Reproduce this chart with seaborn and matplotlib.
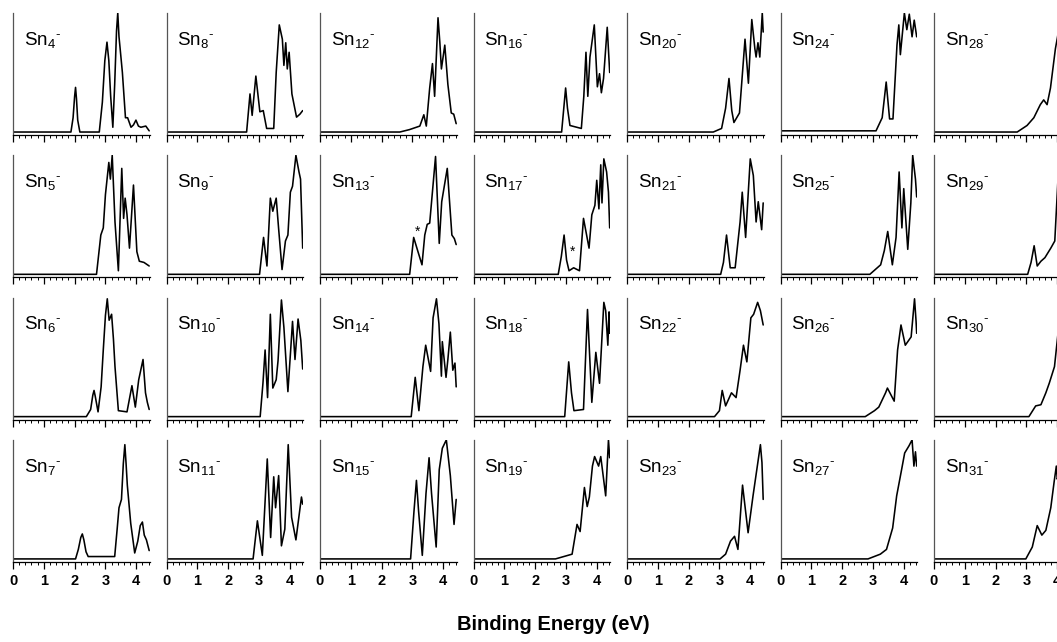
import matplotlib
matplotlib.use("Agg")
import matplotlib.pyplot as plt
import seaborn as sns
from matplotlib.ticker import MultipleLocator

sns.set_style("ticks")
plt.rcParams['font.family'] = ['Liberation Sans', 'DejaVu Sans']
plt.rcParams['mathtext.fontset'] = 'custom'
plt.rcParams['mathtext.rm'] = 'Liberation Sans'
plt.rcParams['mathtext.it'] = 'Liberation Sans:italic'
plt.rcParams['mathtext.bf'] = 'Liberation Sans:bold'
plt.rcParams['text.color'] = 'black'
plt.rcParams['xtick.color'] = 'black'
plt.rcParams['axes.labelcolor'] = 'black'

# ---- data: binding energy (eV) / normalized intensity for each Sn_n^- spectrum ----
sn4_ev = [0, 1.88, 1.95, 2.0, 2.03, 2.06, 2.10, 2.17, 2.80, 2.90, 2.98, 3.05, 3.11, 3.17, 3.24, 3.30, 3.36, 3.40, 3.44, 3.47, 3.55, 3.65, 3.72, 3.83, 3.91, 3.99, 4.07, 4.15, 4.31, 4.42]
sn4_in = [0, 0, 0.12, 0.3, 0.375, 0.28, 0.1, 0, 0, 0.25, 0.6, 0.755, 0.6, 0.3, 0.04, 0.4, 0.85, 1.0, 0.8, 0.72, 0.5, 0.12, 0.12, 0.04, 0.06, 0.10, 0.05, 0.04, 0.05, 0.01]
sn5_ev = [0, 2.71, 2.85, 2.93, 3.0, 3.11, 3.16, 3.22, 3.31, 3.42, 3.53, 3.59, 3.64, 3.70, 3.78, 3.91, 4.02, 4.10, 4.25, 4.42]
sn5_in = [0, 0, 0.33, 0.39, 0.67, 0.94, 0.8, 1.0, 0.44, 0.03, 0.89, 0.47, 0.64, 0.5, 0.22, 0.75, 0.19, 0.11, 0.1, 0.07]
sn6_ev = [0, 2.38, 2.52, 2.59, 2.63, 2.67, 2.76, 2.86, 2.93, 3.0, 3.06, 3.12, 3.2, 3.26, 3.31, 3.42, 3.7, 3.86, 3.97, 4.08, 4.22, 4.3, 4.36, 4.42]
sn6_in = [0, 0, 0.06, 0.18, 0.22, 0.17, 0.04, 0.25, 0.56, 0.85, 0.99, 0.81, 0.86, 0.65, 0.42, 0.05, 0.04, 0.26, 0.08, 0.31, 0.48, 0.2, 0.12, 0.06]
sn7_ev = [0, 2.03, 2.12, 2.2, 2.25, 2.3, 2.37, 2.44, 3.3, 3.38, 3.44, 3.52, 3.58, 3.63, 3.67, 3.71, 3.82, 3.95, 4.05, 4.13, 4.2, 4.26, 4.33, 4.42]
sn7_in = [0, 0, 0.08, 0.18, 0.21, 0.16, 0.06, 0.02, 0.02, 0.25, 0.43, 0.5, 0.8, 0.96, 0.8, 0.62, 0.3, 0.05, 0.15, 0.28, 0.31, 0.2, 0.16, 0.07]
sn8_ev = [0, 2.60, 2.71, 2.78, 2.90, 3.03, 3.14, 3.25, 3.48, 3.56, 3.66, 3.76, 3.81, 3.87, 3.92, 3.98, 4.07, 4.22, 4.33, 4.42]
sn8_in = [0, 0, 0.32, 0.14, 0.47, 0.17, 0.18, 0.03, 0.03, 0.5, 0.9, 0.78, 0.56, 0.75, 0.53, 0.67, 0.32, 0.125, 0.15, 0.18]
sn9_ev = [0, 3.02, 3.15, 3.26, 3.37, 3.45, 3.56, 3.64, 3.75, 3.86, 3.94, 4.02, 4.09, 4.2, 4.3, 4.35, 4.42]
sn9_in = [0, 0, 0.31, 0.07, 0.64, 0.53, 0.64, 0.38, 0.04, 0.28, 0.33, 0.69, 0.74, 1.0, 0.86, 0.8, 0.22]
sn10_ev = [0, 3.04, 3.13, 3.2, 3.28, 3.37, 3.45, 3.56, 3.62, 3.73, 3.81, 3.94, 4.03, 4.09, 4.17, 4.27, 4.36, 4.42]
sn10_in = [0, 0, 0.28, 0.56, 0.16, 0.86, 0.24, 0.31, 0.47, 0.98, 0.75, 0.21, 0.56, 0.8, 0.48, 0.82, 0.64, 0.4]
sn11_ev = [0, 2.81, 2.95, 3.11, 3.27, 3.38, 3.48, 3.54, 3.64, 3.73, 3.84, 3.95, 4.06, 4.2, 4.38, 4.42]
sn11_in = [0, 0, 0.32, 0.03, 0.84, 0.18, 0.69, 0.43, 0.7, 0.11, 0.25, 0.96, 0.35, 0.16, 0.52, 0.46]
sn12_ev = [0, 2.59, 2.9, 3.24, 3.37, 3.45, 3.56, 3.65, 3.72, 3.83, 3.89, 3.94, 4.05, 4.15, 4.26, 4.34, 4.42]
sn12_in = [0, 0, 0.02, 0.05, 0.145, 0.05, 0.37, 0.575, 0.3, 0.96, 0.75, 0.53, 0.73, 0.4, 0.16, 0.15, 0.07]
sn13_ev = [0, 2.91, 3.04, 3.18, 3.31, 3.40, 3.48, 3.56, 3.75, 3.87, 3.95, 4.13, 4.28, 4.36, 4.42]
sn13_in = [0, 0, 0.31, 0.19, 0.08, 0.33, 0.42, 0.43, 0.99, 0.26, 0.61, 0.89, 0.33, 0.3, 0.25]
sn14_ev = [0, 2.96, 3.09, 3.21, 3.34, 3.43, 3.59, 3.67, 3.78, 3.86, 3.94, 3.97, 4.09, 4.15, 4.23, 4.31, 4.38, 4.42]
sn14_in = [0, 0, 0.33, 0.05, 0.42, 0.6, 0.38, 0.83, 0.99, 0.78, 0.34, 0.63, 0.33, 0.48, 0.71, 0.39, 0.45, 0.25]
sn15_ev = [0, 2.94, 3.05, 3.13, 3.2, 3.32, 3.44, 3.54, 3.62, 3.77, 3.87, 3.97, 4.1, 4.23, 4.35, 4.42]
sn15_in = [0, 0, 0.4, 0.66, 0.4, 0.03, 0.55, 0.85, 0.55, 0.1, 0.75, 0.93, 1.0, 0.7, 0.29, 0.5]
sn16_ev = [0, 2.86, 2.93, 2.99, 3.05, 3.13, 3.5, 3.58, 3.65, 3.71, 3.78, 3.92, 4.02, 4.09, 4.15, 4.22, 4.34, 4.42]
sn16_in = [0, 0, 0.2, 0.37, 0.2, 0.055, 0.03, 0.3, 0.67, 0.3, 0.63, 0.9, 0.38, 0.49, 0.33, 0.45, 0.88, 0.5]
sn17_ev = [0, 2.75, 2.85, 2.94, 3.02, 3.10, 3.25, 3.44, 3.57, 3.75, 3.84, 3.94, 4.0, 4.07, 4.13, 4.17, 4.23, 4.32, 4.38, 4.42]
sn17_in = [0, 0, 0.15, 0.33, 0.12, 0.03, 0.055, 0.03, 0.47, 0.22, 0.5, 0.58, 0.79, 0.55, 0.92, 0.6, 0.97, 0.86, 0.69, 0.39]
sn18_ev = [0, 2.96, 3.09, 3.18, 3.26, 3.57, 3.70, 3.84, 3.97, 4.09, 4.23, 4.29, 4.36, 4.40, 4.42]
sn18_in = [0, 0, 0.46, 0.2, 0.05, 0.06, 0.9, 0.12, 0.54, 0.28, 0.96, 0.89, 0.6, 0.88, 0.7]
sn19_ev = [0, 2.66, 3.2, 3.36, 3.46, 3.6, 3.69, 3.76, 3.86, 3.93, 4.06, 4.13, 4.29, 4.38, 4.42]
sn19_in = [0, 0, 0.04, 0.29, 0.23, 0.6, 0.44, 0.52, 0.78, 0.86, 0.78, 0.86, 0.53, 1.0, 0.85]
sn20_ev = [0, 2.8, 3.07, 3.2, 3.31, 3.40, 3.47, 3.65, 3.83, 3.94, 4.05, 4.15, 4.19, 4.25, 4.31, 4.39, 4.42]
sn20_in = [0, 0, 0.03, 0.2, 0.45, 0.18, 0.08, 0.16, 0.78, 0.41, 0.945, 0.7, 0.63, 0.75, 0.63, 1.0, 0.84]
sn21_ev = [0, 3.04, 3.13, 3.23, 3.35, 3.51, 3.67, 3.74, 3.85, 4.0, 4.1, 4.19, 4.26, 4.37, 4.42]
sn21_in = [0, 0, 0.1, 0.33, 0.055, 0.055, 0.44, 0.69, 0.31, 0.97, 0.83, 0.44, 0.61, 0.375, 0.6]
sn22_ev = [0, 2.84, 3.0, 3.09, 3.2, 3.39, 3.54, 3.67, 3.78, 3.89, 4.02, 4.11, 4.24, 4.33, 4.42]
sn22_in = [0, 0, 0.05, 0.22, 0.09, 0.2, 0.16, 0.39, 0.6, 0.46, 0.83, 0.86, 0.96, 0.89, 0.77]
sn23_ev = [0, 3.02, 3.2, 3.36, 3.49, 3.6, 3.75, 3.93, 4.09, 4.33, 4.38, 4.42]
sn23_in = [0, 0, 0.04, 0.15, 0.19, 0.08, 0.62, 0.22, 0.53, 0.96, 0.81, 0.5]
sn24_ev = [0, 3.1, 3.3, 3.43, 3.54, 3.65, 3.78, 3.84, 3.89, 4.02, 4.1, 4.18, 4.27, 4.34, 4.42]
sn24_in = [0.01, 0.01, 0.12, 0.42, 0.11, 0.11, 0.73, 0.9, 0.65, 1.0, 0.86, 0.99, 0.8, 0.94, 0.8]
sn25_ev = [0, 2.9, 3.25, 3.37, 3.48, 3.63, 3.75, 3.85, 3.94, 4.0, 4.13, 4.23, 4.29, 4.38, 4.42]
sn25_in = [0, 0, 0.08, 0.2, 0.36, 0.08, 0.31, 0.86, 0.39, 0.72, 0.21, 0.6, 1.0, 0.8, 0.65]
sn26_ev = [0, 2.75, 3.05, 3.19, 3.41, 3.47, 3.69, 3.8, 3.91, 4.05, 4.24, 4.35, 4.4, 4.42]
sn26_in = [0, 0, 0.05, 0.08, 0.2, 0.24, 0.13, 0.56, 0.77, 0.6, 0.67, 0.99, 0.8, 0.7]
sn27_ev = [0, 2.84, 3.24, 3.44, 3.64, 3.77, 3.93, 4.03, 4.17, 4.27, 4.33, 4.38, 4.42]
sn27_in = [0, 0, 0.04, 0.08, 0.26, 0.53, 0.75, 0.89, 0.95, 1.0, 0.78, 0.9, 0.78]
sn28_ev = [0, 2.7, 3.02, 3.24, 3.45, 3.56, 3.67, 3.78, 3.94, 4.01, 4.11, 4.25, 4.42]
sn28_in = [0, 0, 0.055, 0.12, 0.23, 0.27, 0.23, 0.37, 0.7, 0.8, 0.97, 0.95, 0.9]
sn29_ev = [0, 3.04, 3.15, 3.25, 3.35, 3.47, 3.6, 3.79, 3.92, 4.02, 4.1, 4.25, 4.42]
sn29_in = [0, 0, 0.1, 0.24, 0.07, 0.11, 0.14, 0.22, 0.28, 0.78, 0.92, 0.95, 0.85]
sn30_ev = [0, 3.08, 3.3, 3.47, 3.63, 3.74, 3.91, 4.07, 4.2, 4.35, 4.42]
sn30_in = [0, 0, 0.09, 0.1, 0.2, 0.28, 0.42, 0.81, 0.95, 0.85, 0.8]
sn31_ev = [0, 2.98, 3.19, 3.35, 3.5, 3.63, 3.79, 3.9, 3.97, 4.0, 4.2, 4.42]
sn31_in = [0, 0, 0.1, 0.28, 0.2, 0.24, 0.43, 0.65, 0.78, 0.67, 0.8, 0.7]

cluster_sizes = list(range(4, 32))
tick_values = [0, 1, 2, 3, 4]
# "*" markers (cluster size, energy, intensity)
star_sizes = [13, 17]
star_ev = [3.17, 3.22]
star_in = [0.36, 0.19]

spectra = {n: (globals()[f"sn{n}_ev"], globals()[f"sn{n}_in"]) for n in cluster_sizes}

W, H = 1057, 642
fig = plt.figure(figsize=(W / 100, H / 100), dpi=100)

col_left0, col_pitch, ax_w = 13, 153.5, 136.5
row_top0, row_pitch, ax_h = 13, 142.3, 122

for n in cluster_sizes:
    c = (n - 4) // 4
    r = (n - 4) % 4
    left = col_left0 + c * col_pitch
    top = row_top0 + r * row_pitch
    ax = fig.add_axes([left / W, 1 - (top + ax_h) / H, ax_w / W, ax_h / H])
    ev, iv = spectra[n]
    sns.lineplot(x=ev, y=iv, ax=ax, color='black', linewidth=1.15,
                 sort=False, estimator=None)
    ax.set_xlim(0, 4.43)
    ax.set_ylim(-0.025, 1.0)
    ax.set_yticks([])
    ax.set_xticks(tick_values)
    ax.xaxis.set_minor_locator(MultipleLocator(0.2))
    ax.tick_params(axis='x', which='major', direction='out', length=5, width=0.9,
                   color='black', pad=4)
    ax.tick_params(axis='x', which='minor', direction='out', length=2.5, width=0.7,
                   color='black')
    for s in ['top', 'right']:
        ax.spines[s].set_visible(False)
    ax.spines['bottom'].set_color('black')
    ax.spines['bottom'].set_linewidth(0.9)
    ax.spines['left'].set_color('#555555')
    ax.spines['left'].set_linewidth(0.9)
    if r == 3:
        ax.set_xticklabels([str(t) for t in tick_values], fontsize=10.5,
                           fontweight='bold', color='black')
    else:
        ax.set_xticklabels([])
    ax.set_xlabel('')
    ax.set_ylabel('')
    ax.text(0.08, 0.78, r"Sn$_{%d}{}^{\text{-}}$" % n, transform=ax.transAxes,
            fontsize=13.5, va='center', ha='left', color='black')
    if n in star_sizes:
        k = star_sizes.index(n)
        ax.text(star_ev[k], star_in[k], '*', fontsize=10, ha='center',
                va='center', color='black')

fig.text(553 / W, 1 - 625 / H, 'Binding Energy (eV)', fontsize=14.5,
         fontweight='bold', ha='center', va='center', color='black')

fig.savefig('out.png', dpi=100)
